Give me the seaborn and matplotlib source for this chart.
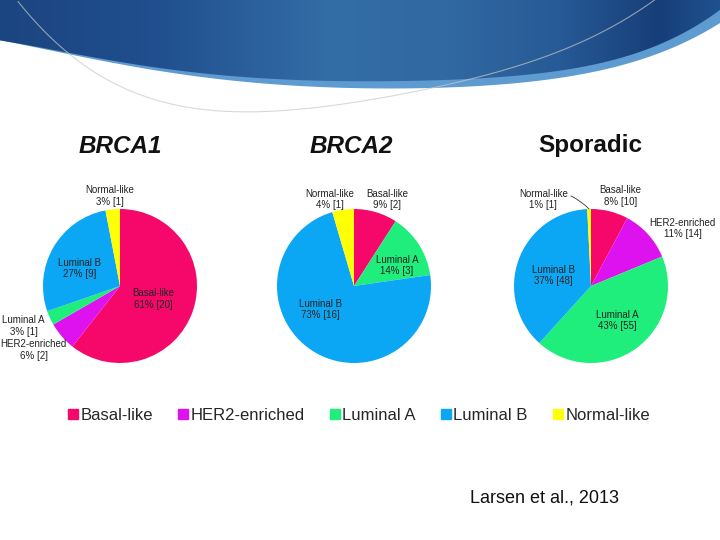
import numpy as np
import matplotlib
matplotlib.use("Agg")
import matplotlib.pyplot as plt
import seaborn as sns
from matplotlib.lines import Line2D
from matplotlib.patches import Polygon

# ---------------- data ----------------
subtypes = ["Basal-like", "HER2-enriched", "Luminal A", "Luminal B", "Normal-like"]
colors = ["#F5086A", "#DD12EE", "#1FEE7C", "#0BA7F4", "#FFFF05"]

groups = ["BRCA1", "BRCA2", "Sporadic"]
brca1_counts = [20, 2, 1, 9, 1]
brca1_pcts = [61, 6, 3, 27, 3]
brca2_counts = [2, 0, 3, 16, 1]
brca2_pcts = [9, 0, 14, 73, 4]
sporadic_counts = [10, 14, 55, 48, 1]
sporadic_pcts = [8, 11, 43, 37, 1]
citation = "Larsen et al., 2013"

# ---------------- style ----------------
sns.set_theme(style="white")
palette = sns.color_palette(colors)
plt.rcParams["font.family"] = ["Liberation Sans", "DejaVu Sans"]

W, H = 720, 540
fig = plt.figure(figsize=(7.2, 5.4), dpi=100)
fig.patch.set_facecolor("white")

# ---------------- header decoration ----------------
bg = fig.add_axes([0, 0, 1, 1], zorder=-5)
bg.set_xlim(0, W)
bg.set_ylim(H, 0)
bg.axis("off")

xs = np.linspace(0, W, 400)
edge_x = [0, 60, 200, 360, 460, 560, 640, 700, 720]
dark_pts_y = [40, 52, 72, 82, 80, 69, 52, 26, 8]
light_pts_y = [40, 53, 76, 89, 87, 77, 60, 36, 22]
dark_edge = np.polyval(np.polyfit(edge_x, dark_pts_y, 5), xs)
light_edge = np.polyval(np.polyfit(edge_x, light_pts_y, 5), xs)

light_poly = Polygon(np.column_stack([np.r_[xs, xs[::-1]], np.r_[light_edge, np.zeros_like(xs)]]),
                     closed=True, facecolor="#5E9BD0", edgecolor="none", zorder=1)
bg.add_patch(light_poly)

dark_poly = Polygon(np.column_stack([np.r_[xs, xs[::-1]], np.r_[dark_edge, np.zeros_like(xs)]]),
                    closed=True, facecolor="none", edgecolor="none", zorder=2)
bg.add_patch(dark_poly)
grad_x = np.array([0, 150, 330, 450, 560, 660, 720])
grad_c = np.array([[0x1B, 0x45, 0x80], [0x20, 0x4E, 0x8E], [0x33, 0x6E, 0xA6],
                   [0x31, 0x69, 0xA2], [0x27, 0x5A, 0x96], [0x16, 0x3E, 0x78],
                   [0x1F, 0x52, 0x8E]]) / 255.0
gx = np.linspace(0, W, 360)
row = np.stack([np.interp(gx, grad_x, grad_c[:, k]) for k in range(3)], axis=-1)
img = np.repeat(row[None, :, :], 2, axis=0)
im = bg.imshow(img, extent=[0, W, 100, 0], aspect="auto", zorder=2, interpolation="bilinear")
im.set_clip_path(dark_poly)

arc_x = [18, 60, 130, 250, 360, 420, 500, 580, 640, 656]
arc_y = [0, 48, 92, 108, 103, 92, 72, 40, 10, 0]
axs_line = np.linspace(18, 656, 300)
arc_fit = np.polyval(np.polyfit(arc_x, arc_y, 4), axs_line)
bg.plot(axs_line, arc_fit, color="#C8C8C8", lw=0.8, alpha=0.7, zorder=3)

# ---------------- pies ----------------
R = 77
PAD = 1.7


def pie_axes(cx, cy):
    w = 2 * PAD * R
    ax = fig.add_axes([(cx - PAD * R) / W, 1 - (cy + PAD * R) / H, w / W, w / H])
    return ax


pie_specs = [
    (120, 286, brca1_counts, brca1_pcts,
     {0: (0.43, -0.17), 1: (-1.12, -0.83), 2: (-1.25, -0.52), 3: (-0.52, 0.23), 4: (-0.13, 1.17)}),
    (354, 286, brca2_counts, brca2_pcts,
     {0: (0.43, 1.12), 2: (0.56, 0.27), 3: (-0.44, -0.31), 4: (-0.31, 1.12)}),
    (591, 286, sporadic_counts, sporadic_pcts,
     {0: (0.38, 1.17), 1: (1.19, 0.75), 2: (0.34, -0.45), 3: (-0.49, 0.14), 4: (-0.62, 1.12)}),
]
title_pos = [(120, 147, "italic"), (351, 147, "italic"), (590, 145, "normal")]

for (cx, cy, counts, pcts, lab_pos), gname, (tx, ty, tstyle) in zip(pie_specs, groups, title_pos):
    ax = pie_axes(cx, cy)
    idx = [i for i, c in enumerate(counts) if c > 0]
    vals = [counts[i] for i in idx]
    cols = [palette[i] for i in idx]
    wedges, _ = ax.pie(vals, colors=cols, startangle=90, counterclock=False, radius=1,
                       wedgeprops=dict(linewidth=0, edgecolor="none"))
    ax.set_xlim(-PAD, PAD)
    ax.set_ylim(-PAD, PAD)
    ax.set_aspect("equal")
    ax.axis("off")
    for w_, i in zip(wedges, idx):
        lx, ly = lab_pos[i]
        txt = f"{subtypes[i]}\n{pcts[i]}% [{counts[i]}]"
        if gname == "Sporadic" and subtypes[i] == "Normal-like":
            ang = np.deg2rad((w_.theta1 + w_.theta2) / 2)
            ax.annotate(txt, xy=(np.cos(ang), np.sin(ang)), xytext=(lx, ly),
                        ha="center", va="center", fontsize=7, color="#222222",
                        multialignment="center", linespacing=1.15,
                        arrowprops=dict(arrowstyle="-", color="#333333", lw=0.6,
                                        connectionstyle="arc3,rad=-0.1", shrinkA=0, shrinkB=0,
                                        relpos=(1.0, 0.75)))
        else:
            ax.text(lx, ly, txt, ha="center", va="center", fontsize=7, color="#222222",
                    multialignment="center", linespacing=1.15)
    fig.text(tx / W, 1 - ty / H, gname, ha="center", va="center", fontsize=17.5,
             fontweight="bold", fontstyle=tstyle, color="#111111")

# ---------------- legend ----------------
handles = [Line2D([], [], marker="s", linestyle="", color=palette[i], markersize=7)
           for i in range(len(subtypes))]
fig.legend(handles, subtypes, loc="center", bbox_to_anchor=(359 / W, 1 - 415 / H), ncol=5,
           frameon=False, fontsize=12, handlelength=0.6, handletextpad=0.15,
           columnspacing=1.5, borderaxespad=0)

fig.text(544 / W, 1 - 498 / H, citation, ha="center", va="center", fontsize=13, color="#111111")

fig.savefig("out.png", dpi=100)
